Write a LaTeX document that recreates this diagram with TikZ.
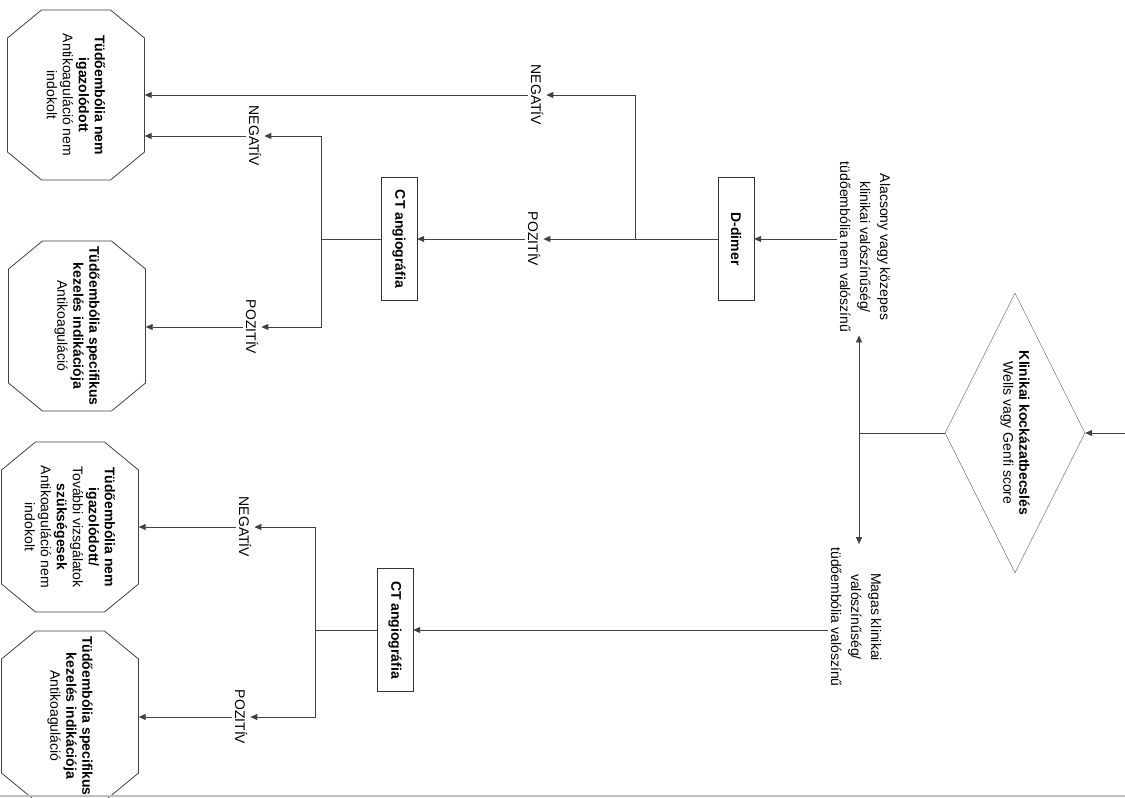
\documentclass[tikz,border=0pt]{standalone}
\usepackage{fontspec}
\setmainfont{Liberation Sans}
\usepackage{tikz}
\usetikzlibrary{shapes.geometric, arrows.meta, positioning, calc}

\begin{document}
\begin{tikzpicture}[x=1pt, y=-1pt,
  every node/.style={font=\fontsize{14}{16}\selectfont},
  box/.style={draw=black!80, rectangle, rotate=-90, minimum width=123pt,
              minimum height=36pt, inner sep=2pt,
              font=\fontsize{14}{16}\selectfont\bfseries},
  decision/.style={draw=black!60, diamond, rotate=-90, aspect=2,
                   minimum width=280pt, minimum height=140pt,
                   align=center, inner sep=0pt},
  outcome/.style={rectangle, rotate=-90, minimum width=170pt,
                  minimum height=137pt, align=center, inner sep=0pt},
  note/.style={rotate=-90, align=center, inner sep=3pt,
               font=\fontsize{14}{20}\selectfont},
  result/.style={rotate=-90, inner sep=3pt},
  line/.style={draw=black!75, line width=0.8pt},
  arrow/.style={line, -{Triangle[length=7pt, width=6pt]}}
]
\clip (0,0) rectangle (1125,798);

% risk assessment
\coordinate (entry) at (1125,433);
\node[decision] (risk) at (1015,433)
  {\textbf{Klinikai kockázatbecslés}\\Wells vagy Genfi score};
\coordinate (split) at (859,433);
\node[note] (low)  at (865,247)
  {Alacsony vagy közepes\\klinikai valószínűség/\\tüdőembólia nem valószínű};
\node[note] (high) at (856,617)
  {Magas klinikai\\valószínűség/\\tüdőembólia valószínű};

% upper branch
\node[box] (ddimer) at (736,239) {D-dimer};
\coordinate (branchA) at (635,239);
\node[result] (negA) at (537,95)  {NEGATÍV};
\node[result] (posA) at (534,239) {POZITÍV};
\node[box] (ct1) at (399,239) {CT angiográfia};
\coordinate (branchB) at (321,239);
\node[result] (negB) at (255,136) {NEGATÍV};
\node[result] (posB) at (252,327) {POZITÍV};
\node[outcome] (oct1) at (76,95)
  {\textbf{Tüdőembólia nem}\\\textbf{igazolódott}\\Antikoaguláció nem\\indokolt};
\node[outcome] (oct2) at (77,326)
  {\textbf{Tüdőembólia specifikus}\\\textbf{kezelés indikációja}\\Antikoaguláció};

% lower branch
\node[box] (ct2) at (395,630) {CT angiográfia};
\coordinate (branchC) at (315,630);
\node[result] (negC) at (245,527) {NEGATÍV};
\node[result] (posC) at (241,717) {POZITÍV};
\node[outcome] (oct3) at (70,527)
  {\textbf{Tüdőembólia nem}\\\textbf{igazolódott/}\\További vizsgálatok\\\textbf{szükségesek}\\Antikoaguláció nem\\indokolt};
\node[outcome] (oct4) at (70,716)
  {\textbf{Tüdőembólia specifikus}\\\textbf{kezelés indikációja}\\Antikoaguláció};

% octagon outlines
\foreach \oct in {oct1,oct2,oct3,oct4}
  \draw[line] let \p1=(\oct.center) in
    (\x1-68.5pt,\y1+57pt) -- (\x1-34.5pt,\y1+85pt) -- (\x1+34.5pt,\y1+85pt)
    -- (\x1+68.5pt,\y1+57pt) -- (\x1+68.5pt,\y1-57pt) -- (\x1+34.5pt,\y1-85pt)
    -- (\x1-34.5pt,\y1-85pt) -- (\x1-68.5pt,\y1-57pt) -- cycle;

\draw[arrow] (entry) -- (risk);
\draw[line]  (risk) -- (split);
\draw[arrow] (split) -- (split |- low.east);
\draw[arrow] (split) -- (split |- high.west);

\draw[arrow] (low.south |- ddimer) -- (ddimer);
\draw[line]  (ddimer) -- (branchA);
\draw[arrow] (branchA) -- (posA);
\draw[arrow] (branchA) |- (negA);
\draw[arrow] (negA) -- (negA -| oct1.north);
\draw[arrow] (posA) -- (ct1);
\draw[line]  (ct1) -- (branchB);
\draw[arrow] (branchB) |- (negB);
\draw[arrow] (branchB) |- (posB);
\draw[arrow] (negB) -- (negB -| oct1.north);
\draw[arrow] (posB) -- (posB -| oct2.north);

\draw[arrow] (high.south |- ct2) -- (ct2);
\draw[line]  (ct2) -- (branchC);
\draw[arrow] (branchC) |- (negC);
\draw[arrow] (branchC) |- (posC);
\draw[arrow] (negC) -- (negC -| oct3.north);
\draw[arrow] (posC) -- (posC -| oct4.north);

\draw[gray!50, line width=1.2pt] (0,796) -- (1125,796);
\end{tikzpicture}
\end{document}
